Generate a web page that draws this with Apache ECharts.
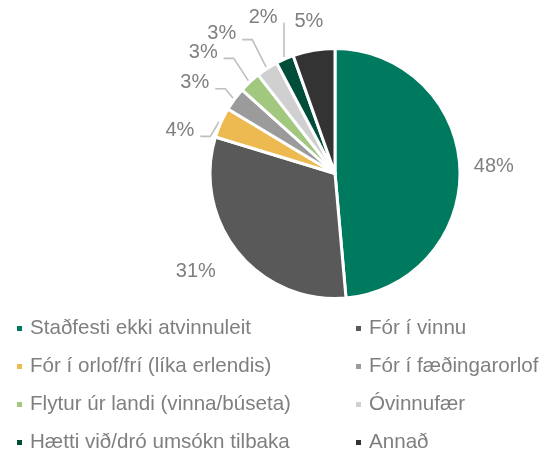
<!DOCTYPE html>
<html><head><meta charset="utf-8">
<script src="https://cdn.jsdelivr.net/npm/echarts@6/dist/echarts.min.js"></script>
<style>html,body{margin:0;padding:0;background:#fff}#c{width:560px;height:451px}</style>
</head><body><div id="c"></div>
<script>
const categories = ["Staðfesti ekki atvinnuleit","Fór í vinnu","Fór í orlof/frí (líka erlendis)","Fór í fæðingarorlof","Flytur úr landi (vinna/búseta)","Óvinnufær","Hætti við/dró umsókn tilbaka","Annað"];
const values = [48.4, 31.0, 3.9, 3.0, 2.8, 2.8, 2.3, 5.4];
const colors = ["#007A5E","#595959","#EDBA52","#9B9B9B","#A2C77E","#D0D0D0","#004D3A","#333333"];
// label placement styling: distance beyond rim, angular nudge (deg), show leader line
const labelDist = [34, 45, 36, 42, 54, 55, 47, 29];
const labelNudge = [0, 4, -8.5, -3.6, -4.4, -6.1, -1, 0];
const showLine = [false, false, true, true, true, true, true, false];

const FONT = "Liberation Sans";
const CX = 335, CY = 173.5, R = 125;
const total = values.reduce((a, b) => a + b, 0);
const midAngles = [];
{ let acc = 0; values.forEach(v => { midAngles.push((acc + v / 2) / total * 360); acc += v; }); }

const chart = echarts.init(document.getElementById('c'));
const legendBase = {
  orient: 'vertical', icon: 'rect', itemWidth: 7, itemHeight: 7, itemGap: 17, height: 160,
  textStyle: {color: '#7F7F7F', fontSize: 20.6, fontFamily: FONT, padding: [0,0,0,2]},
  selectedMode: false
};
chart.setOption({
  animation: false,
  color: colors,
  legend: [
    Object.assign({}, legendBase, {left: 10, top: 313, data: [categories[0],categories[2],categories[4],categories[6]]}),
    Object.assign({}, legendBase, {left: 349, top: 313, data: [categories[1],categories[3],categories[5],categories[7]]})
  ],
  series: [{
    type: 'pie',
    center: [CX, CY],
    radius: [0, R],
    startAngle: 90,
    clockwise: true,
    avoidLabelOverlap: false,
    itemStyle: {borderColor: '#fff', borderWidth: 3},
    label: {
      show: true, position: 'outside', color: '#7F7F7F', fontSize: 20, fontFamily: FONT,
      formatter: p => Math.round(p.value) + '%'
    },
    labelLine: {show: true, length: 10, length2: 0, lineStyle: {color: '#BFBFBF', width: 1.6}},
    labelLayout: function (params) {
      const i = params.dataIndex;
      const a = (midAngles[i] + labelNudge[i]) * Math.PI / 180;
      const d = R + labelDist[i];
      const lx = CX + d * Math.sin(a), ly = CY - d * Math.cos(a);
      const out = {x: lx, y: ly, align: 'center', verticalAlign: 'middle'};
      if (showLine[i]) {
        const m = midAngles[i] * Math.PI / 180;
        const p1 = [CX + (R + 2) * Math.sin(m), CY - (R + 2) * Math.cos(m)];
        const w = params.labelRect.width;
        const p3 = [lx + w / 2 + 6, ly + 6];
        const p2 = [Math.min(p3[0] + 10, p1[0]), p3[1]];
        out.labelLinePoints = [p1, p2, p3];
      }
      return out;
    },
    data: categories.map((n, i) => ({name: n, value: values[i], labelLine: {show: showLine[i]}}))
  }]
});
</script></body></html>
